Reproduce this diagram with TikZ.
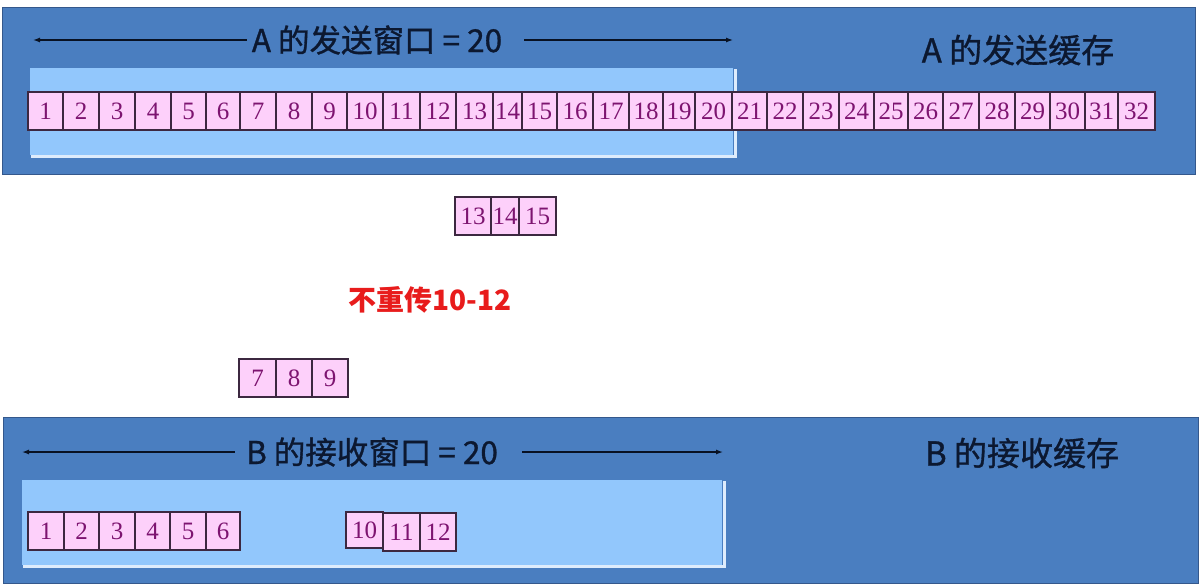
\documentclass[tikz,border=0pt]{standalone}
\usepackage{fontspec}
\setmainfont{Liberation Serif}
\newfontfamily\cjk{Noto Sans CJK SC}
\newfontfamily\cjkm[FakeBold=1]{Noto Sans CJK SC}
\usetikzlibrary{arrows.meta}
\definecolor{panelblue}{RGB}{74,126,192}
\definecolor{paneledge}{RGB}{52,88,140}
\definecolor{winblue}{RGB}{146,199,252}
\definecolor{winhl}{RGB}{222,236,252}
\definecolor{cellfill}{RGB}{253,208,250}
\definecolor{celledge}{RGB}{60,40,64}
\definecolor{digit}{RGB}{125,20,112}
\definecolor{navy}{RGB}{12,24,48}
\definecolor{redtxt}{RGB}{232,28,28}
\begin{document}
\begin{tikzpicture}[x=1pt,y=-1pt,
  panel/.style={fill=panelblue,draw=paneledge,line width=1pt},
  win/.style={fill=winblue,draw=none},
  hl/.style={draw=winhl,line width=3pt},
  cell/.style={draw=celledge,fill=cellfill,line width=1.2pt,inner sep=0pt,
    minimum height=38pt,text=digit,font=\fontsize{25}{25}\selectfont},
  lbl/.style={text=navy,inner sep=2pt,font=\cjkm\fontsize{31.5}{31.5}\selectfont},
  arr/.style={draw=navy!70!black,line width=1.3pt,-{Latex[length=7pt,width=5pt]}}
]
\useasboundingbox (0,0) rectangle (1201,586);
\fill[white] (0,0) rectangle (1201,586);

% ---------- panel A ----------
\path[panel] (2,8) rectangle (1195,174);
\path[win] (30,68) rectangle (733,155);
\draw[hl] (31,156) -- (735,156) -- (735,69);
\node[lbl] (wa) at (377,40) {A 的发送窗口 = 20};
\coordinate (waL) at (33,40);
\coordinate (waR) at (733,40);
\draw[arr] ([xshift=-3pt]wa.west) -- (waL);
\draw[arr] ([xshift=20pt]wa.east) -- (waR);
\node[lbl,font=\cjkm\fontsize{33}{33}\selectfont] (bufa) at (1018,50) {A 的发送缓存};

\foreach \n/\l/\r in {1/28/63,2/63/99,3/99/135,4/135/171,5/171/206,6/206/240,
  7/240/276,8/276/312,9/312/347,10/347/383,11/383/420,12/420/456,13/456/493,
  14/493/522,15/522/557,16/557/593,17/593/629,18/629/663,19/663/695,20/695/732,
  21/732/767,22/767/803,23/803/839,24/839/874,25/874/908,26/908/943,27/943/979,
  28/979/1015,29/1015/1050,30/1050/1085,31/1085/1118,32/1118/1155}
  \node[cell,minimum width={(\r-\l)*1pt}] (a\n) at ({(\l+\r)/2},111) {\n};

% ---------- segments in transit ----------
\foreach \n/\l/\r in {13/455/491,14/491/519,15/519/556}
  \node[cell,minimum width={(\r-\l)*1pt}] (t\n) at ({(\l+\r)/2},216) {\n};
\foreach \n/\l/\r in {7/239/276,8/276/312,9/312/348}
  \node[cell,minimum width={(\r-\l)*1pt}] (s\n) at ({(\l+\r)/2},378) {\n};

\node[text=redtxt,inner sep=0pt,font=\cjk\bfseries\fontsize{28}{28}\selectfont] (note) at (430,300) {不重传10-12};

% ---------- panel B ----------
\path[panel] (3,417) rectangle (1198,583);
\path[win] (22,480) rectangle (722,565);
\draw[hl] (23,566) -- (724,566) -- (724,481);
\node[lbl] (wb) at (372,452) {B 的接收窗口 = 20};
\coordinate (wbL) at (22,452);
\coordinate (wbR) at (723,452);
\draw[arr] ([xshift=-9pt]wb.west) -- (wbL);
\draw[arr] ([xshift=22pt]wb.east) -- (wbR);
\node[lbl,font=\cjkm\fontsize{33}{33}\selectfont] (bufb) at (1022,453) {B 的接收缓存};

\foreach \n/\l/\r in {1/28/64,2/64/99,3/99/135,4/135/170,5/170/206,6/206/240}
  \node[cell,minimum width={(\r-\l)*1pt}] (b\n) at ({(\l+\r)/2},531) {\n};
\node[cell,minimum width=37pt,minimum height=36pt] (b10) at (364.5,530) {10};
\node[cell,minimum width=37pt] (b11) at (401.5,532) {11};
\node[cell,minimum width=36pt] (b12) at (438,532) {12};
\end{tikzpicture}
\end{document}
